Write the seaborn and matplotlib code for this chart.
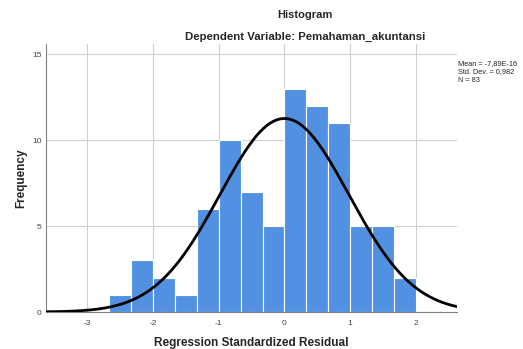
import numpy as np
import pandas as pd
import matplotlib
matplotlib.use('Agg')
import matplotlib.pyplot as plt
import seaborn as sns

# histogram
bin_edges = [-2.667, -2.333, -2.0, -1.667, -1.333, -1.0, -0.667, -0.333,
             0.0, 0.333, 0.667, 1.0, 1.333, 1.667, 2.0]
counts = [1, 3, 2, 1, 6, 10, 7, 5, 13, 12, 11, 5, 5, 2]
mean = -7.89e-16
std_dev = 0.982
n = 83

sns.set_style('white')
plt.rcParams['font.family'] = ['Liberation Sans', 'DejaVu Sans']
plt.rcParams['axes.unicode_minus'] = False

edges = np.array(bin_edges)
df = pd.DataFrame({'resid': (edges[:-1] + edges[1:]) / 2, 'freq': counts})

fig = plt.figure(figsize=(5.23, 3.49), dpi=100)
ax = fig.add_axes([0.088, 0.106, 0.786, 0.768])

sns.histplot(data=df, x='resid', weights='freq', bins=bin_edges, ax=ax,
             color='#5291e2', alpha=1, edgecolor='white', linewidth=0.8, zorder=2)

# normal curve scaled to counts
bw = edges[1] - edges[0]
xs = np.linspace(-3.63, 2.63, 300)
ys = n * bw * np.exp(-0.5 * ((xs - mean) / std_dev) ** 2) / (std_dev * np.sqrt(2 * np.pi))
sns.lineplot(x=xs, y=ys, ax=ax, color='black', linewidth=2, zorder=3)

ax.set_xlim(-3.63, 2.63)
ax.set_ylim(0, 15.6)
ax.set_xticks([-3, -2, -1, 0, 1, 2])
ax.set_yticks([0, 5, 10, 15])
ax.grid(True, color='#d0d0d0', linewidth=0.8, zorder=0)
ax.set_axisbelow(True)
for s in ['top', 'right']:
    ax.spines[s].set_visible(False)
for s in ['left', 'bottom']:
    ax.spines[s].set_color('#808080')
    ax.spines[s].set_linewidth(0.8)
ax.tick_params(labelsize=6, colors='#444444', length=0)
ax.tick_params(axis='x', pad=6)
ax.tick_params(axis='y', pad=3)

ax.set_xlabel('Regression Standardized Residual', fontsize=8.5, fontweight='bold', labelpad=7)
ax.set_ylabel('Frequency', fontsize=8.5, fontweight='bold', labelpad=4)

fig.text(0.583, 0.957, 'Histogram', ha='center', va='center', fontsize=8, fontweight='bold')
fig.text(0.583, 0.895, 'Dependent Variable: Pemahaman_akuntansi', ha='center', va='center',
         fontsize=8.2, fontweight='bold')
fig.text(0.876, 0.794, 'Mean = -7,89E-16\nStd. Dev. = 0,982\nN = 83', ha='left', va='center',
         fontsize=5.3, linespacing=1.35)

fig.savefig('out.png', dpi=100)
